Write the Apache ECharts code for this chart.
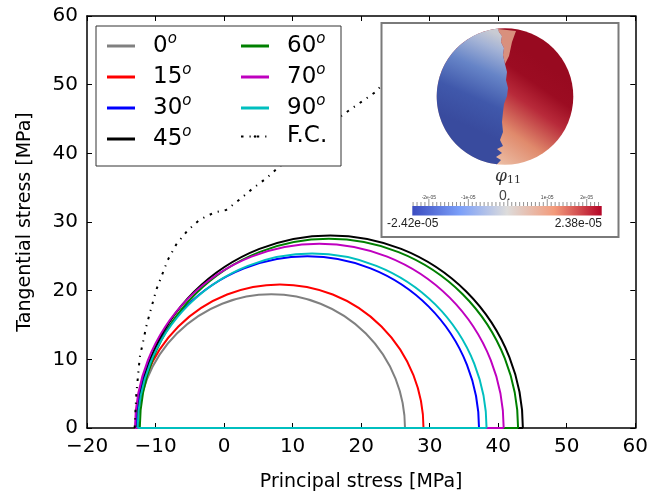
<!DOCTYPE html>
<html><head><meta charset="utf-8">
<script src="https://cdn.jsdelivr.net/npm/echarts@6/dist/echarts.min.js"></script>
<style>html,body{margin:0;padding:0;background:#fff}#c{width:651px;height:498px}</style>
</head><body><div id="c"></div>
<script>
// ---- data ----
const angleNames = ['0','15','30','45','60','70','90'];
const sigmaMin = [-12.6, -12.8, -12.9, -12.6, -12.3, -13.0, -12.6];
const sigmaMax = [26.4, 29.1, 37.2, 43.6, 42.9, 40.8, 38.3];
const fcName = 'F.C.';
const fcX = [-13.05, -12.8, -12.3, -11.3, -9.9, -8.2, -7.0, -5.3, -3.6, -1.4, 0.3, 2.3, 4.2, 6.2, 8.1, 17.3, 22.2, 22.8];
const fcY = [0, 5.0, 10.3, 15.0, 20.1, 24.5, 26.7, 28.8, 30.3, 31.4, 31.75, 33.3, 34.9, 36.4, 38.1, 45.6, 49.0, 49.7];
const xMin = -20, xMax = 60, yMin = 0, yMax = 60, tickStep = 10;
const xName = 'Principal stress [MPa]';
const yName = 'Tangential stress [MPa]';
const cbMin = -2.42e-5, cbMax = 2.38e-5;
const cbLabels = [-2e-5, -1e-5, 0, 1e-5, 2e-5];
const cbLabelText = ['-2e-05', '-1e-05', '0.', '1e-05', '2e-05'];

// ---- styles ----
const colors = ['#808080', '#ff0000', '#0000ff', '#000000', '#008000', '#bf00bf', '#00bfbf'];
const FONT = 'DejaVu Sans';

const chart = echarts.init(document.getElementById('c'), null, {renderer: 'canvas'});

function circleSeries(i) {
  return {
    type: 'custom', name: angleNames[i], coordinateSystem: 'cartesian2d',
    itemStyle: {color: colors[i]}, z: 2,
    data: [[sigmaMin[i], sigmaMax[i], 0]],
    encode: {x: [0, 1], y: 2},
    renderItem: function (params, api) {
      const a = api.value(0), b = api.value(1);
      const c = api.coord([(a + b) / 2, api.value(2)]);
      const r = api.size([(b - a) / 2, 0])[0];
      const col = colors[i];
      return {type: 'group', children: [
        {type: 'arc', shape: {cx: c[0], cy: c[1], r: r, startAngle: Math.PI, endAngle: 2 * Math.PI, clockwise: true},
         style: {stroke: col, lineWidth: 2, fill: 'none'}},
        {type: 'line', shape: {x1: c[0] - r, y1: c[1], x2: c[0] + r, y2: c[1]},
         style: {stroke: col, lineWidth: 2}}
      ]};
    }
  };
}

const series = angleNames.map((_, i) => circleSeries(i));
series.push({
  type: 'line', name: fcName, data: fcX.map((x, k) => [x, fcY[k]]),
  showSymbol: false, symbol: 'none', smooth: false, z: 2,
  lineStyle: {color: '#000', width: 2, type: [2.5, 6, 1.2, 6]},
  itemStyle: {color: '#000'}
});

const legendText = {
  fontFamily: FONT, fontSize: 23, color: '#000', padding: [0, 0, 0, 13],
  rich: {
    n: {fontFamily: FONT, fontSize: 23, lineHeight: 28, color: '#000'},
    s: {fontFamily: FONT, fontSize: 15, fontStyle: 'italic', lineHeight: 17, verticalAlign: 'top', color: '#000'}
  }
};
const legendFmt = name => name === fcName ? '{n|' + name + '}' : '{n|' + name + '}{s|o}';
function legendBlock(names, left) {
  return {
    data: names.map(n => n === fcName ? {name: n} : {name: n, icon: 'rect'}),
    left: left, top: 32, orient: 'vertical', itemWidth: 28, itemHeight: 3, itemGap: 5.5,
    selectedMode: false, formatter: legendFmt, textStyle: legendText, z: 5, padding: 0
  };
}

// inset decoration geometry
const cx = 505, cy = 96.5, R = 68.3;
const boundary = [[497,164.3],[501,160],[496,157],[502,153],[497,149],[503,146],[500,140],[503,132],[502,122],[503,112],[504,104],[507,96],[508,88],[506,80],[507,72],[505,64],[503,55],[504,48],[501,42],[502,36],[499,32],[498,28.6]];
const topAng = Math.atan2(28.6 - cy, 498 - cx);
const botAng = Math.atan2(164.3 - cy, 497 - cx) - 2 * Math.PI;
const leftPoly = [];
for (let k = 0; k <= 60; k++) {
  const a = topAng + (botAng - topAng) * k / 60;
  leftPoly.push([cx + R * Math.cos(a), cy + R * Math.sin(a)]);
}
boundary.forEach(p => leftPoly.push(p));

const cbX0 = 412.3, cbX1 = 601.7, cbY = 206, cbH = 9.5;
const cbPos = v => cbX0 + (v - cbMin) / (cbMax - cbMin) * (cbX1 - cbX0);
const insetEls = [
  {type: 'rect', shape: {x: 381.5, y: 23, width: 237, height: 214}, style: {fill: '#fff', stroke: '#7a7a7a', lineWidth: 2}, z: 10},
  {type: 'circle', shape: {cx: cx, cy: cy, r: R}, z: 11,
   style: {fill: {type: 'linear', x: 0.4, y: 0.95, x2: 0.85, y2: 0.3, colorStops: [
     {offset: 0, color: '#ebbca3'}, {offset: 0.3, color: '#e08a6c'}, {offset: 0.6, color: '#b82a3a'}, {offset: 0.8, color: '#9c0c22'}, {offset: 1, color: '#980a20'}]}}},
  {type: 'polygon', shape: {points: [[498,29],[516,31],[512,42],[509,56],[505,64],[503,55],[504,48],[501,42],[502,36],[499,32]]}, z: 12,
   style: {fill: 'rgba(228,168,142,0.85)'}},
  {type: 'polygon', shape: {points: leftPoly}, z: 12,
   style: {fill: {type: 'linear', x: 0.9, y: 0.05, x2: 0.35, y2: 0.7, colorStops: [
     {offset: 0, color: '#c9cbd3'}, {offset: 0.15, color: '#a4b3d6'}, {offset: 0.4, color: '#6684c7'}, {offset: 0.7, color: '#4058ab'}, {offset: 1, color: '#394b9e'}]}}},
  {type: 'text', x: 508, y: 177, z: 12, style: {text: '{p|φ}{s|11}', align: 'center', verticalAlign: 'middle',
     rich: {p: {fontFamily: 'DejaVu Serif', fontStyle: 'italic', fontSize: 17, fill: '#333'}, s: {fontFamily: 'DejaVu Serif', fontSize: 11, fill: '#333', verticalAlign: 'bottom', padding: [6, 0, 0, 0]}}}},
  {type: 'rect', shape: {x: cbX0, y: cbY, width: cbX1 - cbX0, height: cbH}, z: 12,
   style: {fill: {type: 'linear', x: 0, y: 0, x2: 1, y2: 0, colorStops: [
     {offset: 0, color: '#3b4cc0'}, {offset: 0.25, color: '#7b9ff9'}, {offset: 0.5, color: '#dddcdb'}, {offset: 0.75, color: '#f39b7b'}, {offset: 1, color: '#b40426'}]}}},
  {type: 'text', x: 387, y: 224, z: 12, style: {text: '-2.42e-05', fontFamily: 'Liberation Sans', fontSize: 12, fill: '#222', align: 'left', verticalAlign: 'middle'}},
  {type: 'text', x: 602, y: 224, z: 12, style: {text: '2.38e-05', fontFamily: 'Liberation Sans', fontSize: 12, fill: '#222', align: 'right', verticalAlign: 'middle'}}
];
for (let v = -24; v <= 23; v++) {
  const major = v % 10 === 0;
  const x = cbPos(v * 1e-6);
  insetEls.push({type: 'line', z: 12, shape: {x1: x, y1: major ? 199 : 202, x2: x, y2: cbY}, style: {stroke: '#777', lineWidth: 0.8}});
}
cbLabels.forEach((v, k) => {
  const isZero = v === 0;
  insetEls.push({type: 'text', z: 12, x: cbPos(v) - (isZero ? 3 : 0), y: isZero ? 196 : 198,
    style: {text: cbLabelText[k], fontFamily: 'Liberation Sans', fontSize: isZero ? 14 : 5, fill: '#444', align: 'center', verticalAlign: 'middle'}});
});

const minus = v => String(v).replace('-', '\u2212');
const axisLineStyle = {show: true, onZero: false, lineStyle: {color: '#000', width: 1.5}};
const tickStyle = {show: true, inside: true, length: 5, lineStyle: {color: '#000', width: 1}};

chart.setOption({
  animation: false,
  backgroundColor: '#fff',
  grid: {left: 87, right: 15, top: 16, bottom: 70, containLabel: false},
  xAxis: [
    {type: 'value', min: xMin, max: xMax, interval: tickStep, position: 'bottom',
     axisLine: axisLineStyle, axisTick: tickStyle, splitLine: {show: false},
     axisLabel: {formatter: minus, fontFamily: FONT, fontSize: 20, color: '#000', margin: 9},
     name: xName, nameLocation: 'middle', nameGap: 45,
     nameTextStyle: {fontFamily: FONT, fontSize: 19, color: '#000'}},
    {type: 'value', min: xMin, max: xMax, interval: tickStep, position: 'top',
     axisLine: axisLineStyle, axisTick: tickStyle, splitLine: {show: false}, axisLabel: {show: false}}
  ],
  yAxis: [
    {type: 'value', min: yMin, max: yMax, interval: tickStep, position: 'left',
     axisLine: axisLineStyle, axisTick: tickStyle, splitLine: {show: false},
     axisLabel: {formatter: minus, fontFamily: FONT, fontSize: 20, color: '#000', margin: 9},
     name: yName, nameLocation: 'middle', nameGap: 52,
     nameTextStyle: {fontFamily: FONT, fontSize: 19, color: '#000'}},
    {type: 'value', min: yMin, max: yMax, interval: tickStep, position: 'right',
     axisLine: axisLineStyle, axisTick: tickStyle, splitLine: {show: false}, axisLabel: {show: false}}
  ],
  legend: [
    legendBlock(angleNames.slice(0, 4), 107),
    legendBlock(angleNames.slice(4).concat([fcName]), 240)
  ],
  graphic: {elements: [
    {type: 'rect', shape: {x: 96, y: 26, width: 245, height: 140}, style: {fill: '#fff', stroke: '#333', lineWidth: 1}, z: 3}
  ].concat(insetEls)},
  series: series
});
</script></body></html>
